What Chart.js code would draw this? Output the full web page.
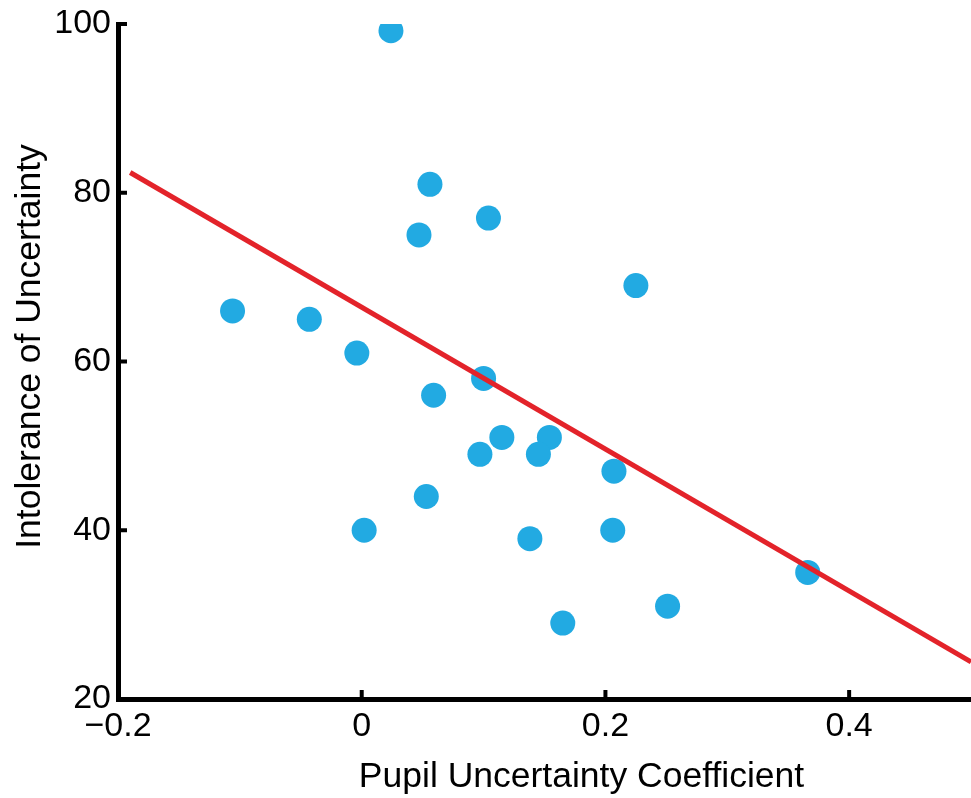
<!DOCTYPE html>
<html>
<head>
<meta charset="utf-8">
<script src="https://cdn.jsdelivr.net/npm/chart.js@4.4.1/dist/chart.umd.min.js"></script>
<style>
html,body{margin:0;padding:0;background:#fff;}
#wrap{width:971px;height:798px;position:relative;}
</style>
</head>
<body>
<div id="wrap"><canvas id="c" width="971" height="798"></canvas></div>
<script>
// Data
const pupilCoef = [0.024, 0.056, 0.104, 0.047, 0.225, -0.106, -0.043, -0.004, 0.100, 0.059, 0.115, 0.154, 0.097, 0.145, 0.207, 0.053, 0.002, 0.206, 0.138, 0.366, 0.251, 0.165];
const intolerance = [99.2, 81, 77, 75, 69, 66, 65, 61, 58, 56, 51, 51, 49, 49, 47, 44, 40, 40, 39, 35, 31, 29];
const fitX = [-0.19, 0.5];
const fitY = [82.4, 24.4];
const xTicks = [-0.2, 0, 0.2, 0.4];
const yTicks = [20, 40, 60, 80, 100];
const xTitle = 'Pupil Uncertainty Coefficient';
const yTitle = 'Intolerance of Uncertainty';

const FONT = '"Liberation Sans", Arial, Helvetica, sans-serif';

const fmt = v => {
  const s = (Math.round(v * 10) / 10).toString();
  return s.replace('-', '\u2212');
};

const innerTicks = {
  id: 'innerTicks',
  afterDatasetsDraw(chart) {
    const ctx = chart.ctx, a = chart.chartArea;
    const xs = chart.scales.x, ys = chart.scales.y;
    ctx.save();
    ctx.strokeStyle = '#000';
    ctx.lineWidth = 4;
    ctx.lineCap = 'butt';
    xTicks.forEach(v => {
      const px = xs.getPixelForValue(v);
      ctx.beginPath(); ctx.moveTo(px, a.bottom); ctx.lineTo(px, a.bottom - 9); ctx.stroke();
    });
    yTicks.forEach(v => {
      const py = ys.getPixelForValue(v);
      ctx.beginPath(); ctx.moveTo(a.left, py); ctx.lineTo(a.left + 9, py); ctx.stroke();
    });
    // axis titles
    ctx.fillStyle = '#000';
    ctx.font = '35.5px ' + FONT;
    ctx.textAlign = 'center';
    ctx.textBaseline = 'middle';
    ctx.fillText(xTitle, (a.left + a.right) / 2 + 37, 777);
    ctx.translate(30, (a.top + a.bottom) / 2 - 15);
    ctx.rotate(-Math.PI / 2);
    ctx.fillText(yTitle, 0, 0);
    ctx.restore();
  }
};

new Chart(document.getElementById('c'), {
  data: {
    datasets: [
      {
        type: 'line',
        data: fitX.map((x, i) => ({x: x, y: fitY[i]})),
        borderColor: '#E3232A',
        borderWidth: 5,
        pointRadius: 0,
        fill: false,
        order: 0
      },
      {
        type: 'scatter',
        data: pupilCoef.map((x, i) => ({x: x, y: intolerance[i]})),
        backgroundColor: '#22AAE2',
        borderWidth: 0,
        pointRadius: 12.5,
        pointHoverRadius: 12.5,
        order: 1
      }
    ]
  },
  options: {
    responsive: false,
    animation: false,
    devicePixelRatio: 1,
    layout: {autoPadding: false, padding: {top: 24, right: 0, left: 0, bottom: 0}},
    plugins: {legend: {display: false}, tooltip: {enabled: false}},
    scales: {
      x: {
        type: 'linear',
        min: -0.2, max: 0.5,
        afterBuildTicks: s => { s.ticks = xTicks.map(v => ({value: v})); },
        afterFit: s => { s.height = 99; s.paddingLeft = 0; s.paddingRight = 0; },
        grid: {display: false, drawTicks: false},
        border: {display: true, color: '#000', width: 5},
        ticks: {color: '#000', font: {family: FONT, size: 34}, padding: 7, maxRotation: 0, autoSkip: false, callback: v => fmt(v)}
      },
      y: {
        type: 'linear',
        min: 20, max: 100,
        afterBuildTicks: s => { s.ticks = yTicks.map(v => ({value: v})); },
        afterFit: s => { s.width = 118; s.paddingTop = 0; s.paddingBottom = 0; },
        grid: {display: false, drawTicks: false},
        border: {display: true, color: '#000', width: 5},
        ticks: {color: '#000', font: {family: FONT, size: 34}, padding: 7, autoSkip: false, callback: v => fmt(v)}
      }
    }
  },
  plugins: [innerTicks]
});
</script>
</body>
</html>
